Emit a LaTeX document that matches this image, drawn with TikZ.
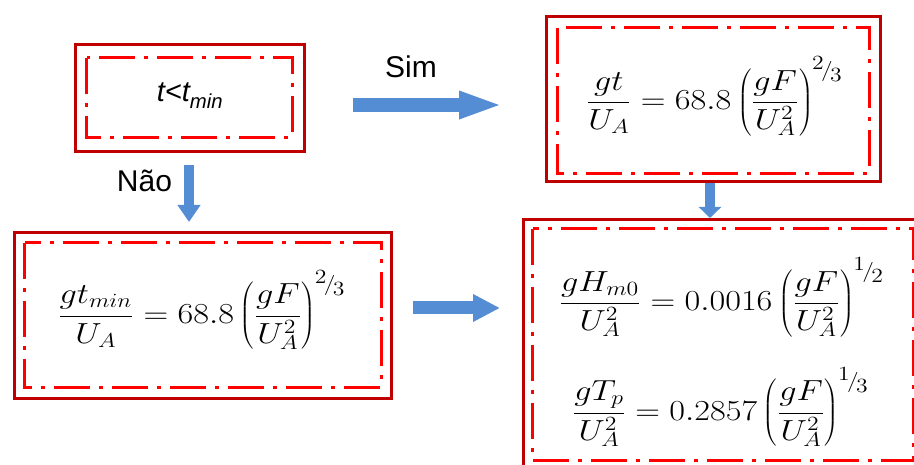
\documentclass[tikz,border=0pt]{standalone}
\usepackage{fontspec}
\setmainfont{Liberation Sans}
\usetikzlibrary{arrows.meta}
\definecolor{outred}{RGB}{192,0,0}
\definecolor{inred}{RGB}{255,0,0}
\definecolor{arrblue}{RGB}{84,141,212}
\newcommand{\slfrac}[2]{\mkern-1mu\raisebox{0.45ex}{$\scriptstyle #1$}\mkern-2mu/\mkern-2mu\raisebox{-0.35ex}{$\scriptstyle #2$}}
\begin{document}
\begin{tikzpicture}[x=1pt,y=-1pt,
  outerbox/.style={draw=outred, line width=3.5pt, rectangle, inner sep=0pt},
  innerdash/.style={draw=inred, line width=3pt, dash pattern=on 36pt off 9pt on 4pt off 9pt},
  mathtxt/.style={inner sep=0pt, font=\fontsize{20}{24}\selectfont, xscale=1.65, yscale=1.4},
  lbl/.style={inner sep=0pt, font=\fontsize{30}{36}\selectfont, anchor=base},
  bluearr/.style={draw=arrblue, line width=#1}
]
\useasboundingbox (0,0) rectangle (914,465);
\clip (0,0) rectangle (914,465);

% boxes
\node[outerbox, minimum width=229pt, minimum height=107pt] (b1) at (190,98) {};
\draw[innerdash] ([shift={(13,15)}]b1.north west) rectangle ([shift={(-14,-16)}]b1.south east);
\node[inner sep=0pt, anchor=base, font=\fontsize{29}{36}\selectfont\itshape] (t1) at (190,102) {t<t\textsubscript{min}};

\node[outerbox, minimum width=334pt, minimum height=165pt] (b2) at (713.5,99) {};
\draw[innerdash] ([shift={(13,13)}]b2.north west) rectangle ([shift={(-13,-10)}]b2.south east);
\node[mathtxt] (f2) at (714.5,96.5) {$\displaystyle \frac{gt}{U_A} = 68.8\left(\frac{gF}{U_A^2}\right)^{\slfrac{2}{3}}$};

\node[outerbox, minimum width=377pt, minimum height=166pt] (b3) at (203,315.5) {};
\draw[innerdash] ([shift={(12,12)}]b3.north west) rectangle ([shift={(-12,-13)}]b3.south east);
\node[mathtxt] (f3) at (201.5,310) {$\displaystyle \frac{gt_{min}}{U_A} = 68.8\left(\frac{gF}{U_A^2}\right)^{\slfrac{2}{3}}$};

\node[outerbox, minimum width=401pt, minimum height=251pt] (b4) at (724,345) {};
\draw[innerdash] ([shift={(11,11)}]b4.north west) rectangle ([shift={(-13,-12)}]b4.south east);
\node[mathtxt] (f4a) at (721.5,297.5) {$\displaystyle \frac{gH_{m0}}{U_A^2} = 0.0016\left(\frac{gF}{U_A^2}\right)^{\slfrac{1}{2}}$};
\node[mathtxt] (f4b) at (720.5,407) {$\displaystyle \frac{gT_{p}}{U_A^2} = 0.2857\left(\frac{gF}{U_A^2}\right)^{\slfrac{1}{3}}$};

% arrows
\coordinate (a1s) at (353,105);
\coordinate (a1e) at (503,105);
\draw[bluearr=14pt, -{Triangle[length=44pt, width=25pt]}, arrblue] (a1s) -- (a1e);
\node[lbl] (sim) at (411,78) {Sim};

\coordinate (a2s) at (189,165);
\coordinate (a2e) at (189,222);
\draw[bluearr=10pt, -{Triangle[length=17pt, width=22pt]}, arrblue] (a2s) -- (a2e);
\node[lbl] (nao) at (144.5,192) {Não};

\coordinate (a3s) at (413,308);
\coordinate (a3e) at (500,308);
\draw[bluearr=13pt, -{Triangle[length=27pt, width=26pt]}, arrblue] (a3s) -- (a3e);

\coordinate (a4s) at (710,183);
\coordinate (a4e) at (710,218);
\draw[bluearr=10pt, -{Triangle[length=11pt, width=22pt]}, arrblue] (a4s) -- (a4e);
\end{tikzpicture}
\end{document}
